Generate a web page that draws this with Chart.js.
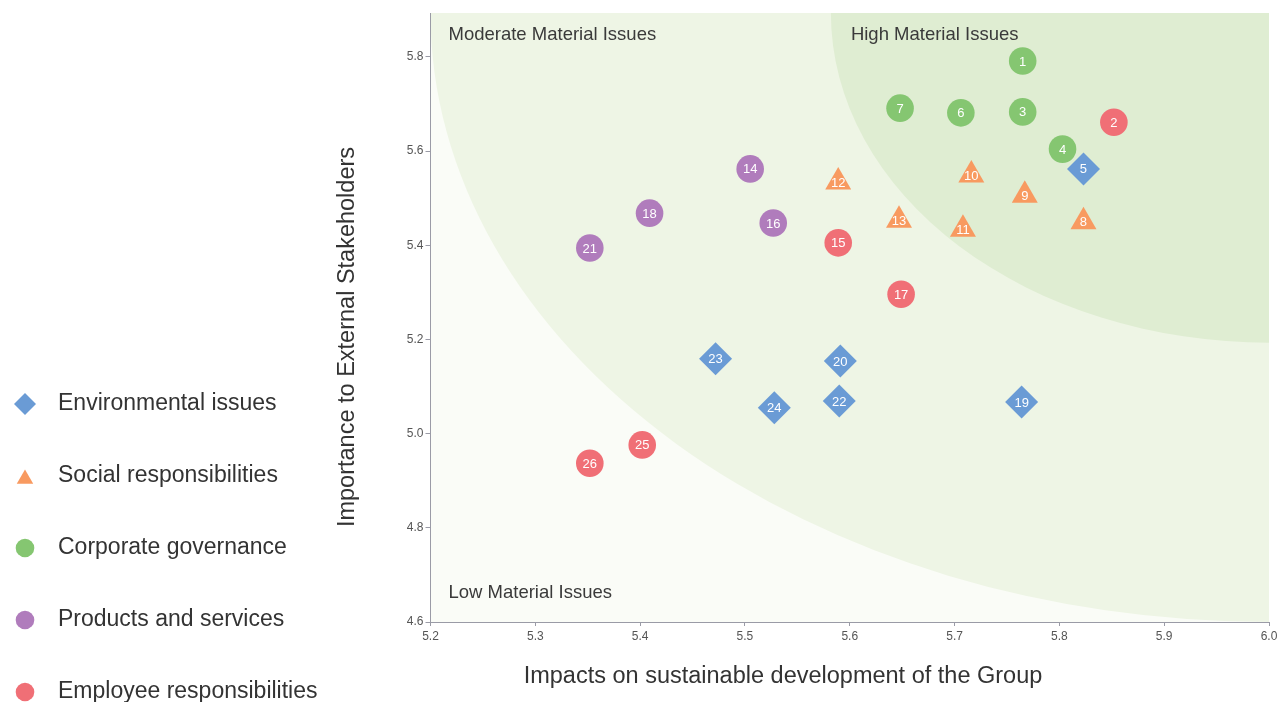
<!DOCTYPE html>
<html>
<head>
<meta charset="utf-8">
<title>Materiality matrix</title>
<script src="https://cdn.jsdelivr.net/npm/chart.js@4/dist/chart.umd.min.js"></script>
<style>
  html, body { margin: 0; padding: 0; background: #ffffff; overflow: hidden; }
  #wrap { position: relative; width: 1277px; height: 702px; }
</style>
</head>
<body>
<div id="wrap"><canvas id="matrix" width="1277" height="702"></canvas></div>
<script>
// Issue groups shown in the legend
const categories = [
  'Environmental issues',
  'Social responsibilities',
  'Corporate governance',
  'Products and services',
  'Employee responsibilities'
];

// Environmental issues
const envIds = [5, 19, 20, 22, 23, 24];
const envX   = [5.823, 5.764, 5.591, 5.590, 5.472, 5.528];
const envY   = [5.562, 5.067, 5.154, 5.069, 5.159, 5.055];

// Social responsibilities
const socIds = [8, 9, 10, 11, 12, 13];
const socX   = [5.823, 5.767, 5.716, 5.708, 5.589, 5.647];
const socY   = [5.450, 5.506, 5.549, 5.434, 5.534, 5.453];

// Corporate governance
const govIds = [1, 3, 4, 6, 7];
const govX   = [5.765, 5.765, 5.803, 5.706, 5.648];
const govY   = [5.791, 5.683, 5.604, 5.681, 5.691];

// Products and services
const prdIds = [14, 16, 18, 21];
const prdX   = [5.505, 5.527, 5.409, 5.352];
const prdY   = [5.562, 5.447, 5.468, 5.394];

// Employee responsibilities
const empIds = [2, 15, 17, 25, 26];
const empX   = [5.852, 5.589, 5.649, 5.402, 5.352];
const empY   = [5.661, 5.405, 5.296, 4.976, 4.937];

// Axis ranges and tick steps
const xRange = [5.2, 6.0];
const yRange = [4.6, 5.893];
const xStep = 0.1;
const yStep = 0.2;

// Materiality zones: quarter ellipses anchored at the top-right corner,
// given by the value where each one meets the top and right edges
const highZone = { xEdge: 5.582, yEdge: 5.193 };
const moderateZone = { xEdge: 5.2, yEdge: 4.6 };
const zoneNames = ['High Material Issues', 'Moderate Material Issues', 'Low Material Issues'];

const axisTitles = {
  x: 'Impacts on sustainable development of the Group',
  y: 'Importance to External Stakeholders'
};

const FONT = "'Liberation Sans', Arial, sans-serif";
const colors = ['#6a9bd5', '#f89a60', '#85c671', '#b07cbc', '#f06f76'];
const styles = ['rectRot', 'triangle', 'circle', 'circle', 'circle'];
const radii  = [16.5, 15, 13.8, 13.8, 13.8];

const series = [
  { ids: envIds, xs: envX, ys: envY },
  { ids: socIds, xs: socX, ys: socY },
  { ids: govIds, xs: govX, ys: govY },
  { ids: prdIds, xs: prdX, ys: prdY },
  { ids: empIds, xs: empX, ys: empY }
];

const datasets = series.map((s, i) => ({
  label: categories[i],
  data: s.xs.map((x, j) => ({ x: x, y: s.ys[j] })),
  ids: s.ids,
  pointStyle: styles[i],
  pointRadius: radii[i],
  pointHoverRadius: radii[i],
  backgroundColor: colors[i],
  borderColor: colors[i],
  pointBorderWidth: 0,
  showLine: false
}));

// Shaded zones behind the points, plus their captions
const zonesPlugin = {
  id: 'zones',
  beforeDraw(chart) {
    const { ctx, chartArea: a, scales: { x, y } } = chart;
    const cx = x.getPixelForValue(xRange[1]);
    const cy = y.getPixelForValue(yRange[1]);
    ctx.save();
    ctx.beginPath();
    ctx.rect(a.left, a.top, a.right - a.left, a.bottom - a.top);
    ctx.clip();
    ctx.fillStyle = '#fafcf7';
    ctx.fillRect(a.left, a.top, a.right - a.left, a.bottom - a.top);

    ctx.fillStyle = '#eef5e5';
    ctx.beginPath();
    ctx.ellipse(cx, cy, cx - x.getPixelForValue(moderateZone.xEdge),
      y.getPixelForValue(moderateZone.yEdge) - cy, 0, 0, Math.PI * 2);
    ctx.fill();

    ctx.fillStyle = '#dfedd2';
    ctx.beginPath();
    ctx.ellipse(cx, cy, cx - x.getPixelForValue(highZone.xEdge),
      y.getPixelForValue(highZone.yEdge) - cy, 0, 0, Math.PI * 2);
    ctx.fill();
    ctx.restore();

    ctx.save();
    ctx.font = '18.5px ' + FONT;
    ctx.fillStyle = '#3a3a3a';
    ctx.textAlign = 'left';
    ctx.textBaseline = 'middle';
    ctx.fillText(zoneNames[0], x.getPixelForValue(highZone.xEdge) + 20, a.top + 22);
    ctx.fillText(zoneNames[1], a.left + 18, a.top + 22);
    ctx.fillText(zoneNames[2], a.left + 18, a.bottom - 29);
    ctx.restore();
  }
};

// Issue numbers written inside each marker
const idLabelsPlugin = {
  id: 'idLabels',
  afterDatasetsDraw(chart) {
    const { ctx } = chart;
    ctx.save();
    ctx.font = '13px ' + FONT;
    ctx.fillStyle = '#ffffff';
    ctx.textAlign = 'center';
    ctx.textBaseline = 'middle';
    chart.data.datasets.forEach((ds, i) => {
      chart.getDatasetMeta(i).data.forEach((pt, j) => {
        ctx.fillText(String(ds.ids[j]), pt.x, pt.y + 1);
      });
    });
    ctx.restore();
  }
};

// Axis titles and the vertical legend on the left
const sideTextPlugin = {
  id: 'sideText',
  afterDraw(chart) {
    const { ctx } = chart;
    ctx.save();
    ctx.fillStyle = '#333333';
    ctx.font = '23.5px ' + FONT;
    ctx.textAlign = 'center';
    ctx.textBaseline = 'middle';
    ctx.fillText(axisTitles.x, 783, 677);
    ctx.translate(348, 337);
    ctx.rotate(-Math.PI / 2);
    ctx.fillText(axisTitles.y, 0, 0);
    ctx.restore();

    const legendRadii = [11, 9.5, 9.3, 9.3, 9.3];
    chart.data.datasets.forEach((ds, i) => {
      const cy = 404 + i * 72;
      ctx.save();
      ctx.fillStyle = ds.backgroundColor;
      ctx.strokeStyle = ds.backgroundColor;
      let py = cy;
      if (ds.pointStyle === 'triangle') py = cy + 3;
      Chart.helpers.drawPoint(ctx, { pointStyle: ds.pointStyle, radius: legendRadii[i], rotation: 0, borderWidth: 0 }, 25, py);
      ctx.fillStyle = '#333333';
      ctx.font = '23px ' + FONT;
      ctx.textAlign = 'left';
      ctx.textBaseline = 'middle';
      ctx.fillText(ds.label, 58, cy);
      ctx.restore();
    });
  }
};

new Chart(document.getElementById('matrix'), {
  type: 'scatter',
  data: { datasets: datasets },
  options: {
    responsive: false,
    animation: false,
    events: [],
    layout: { autoPadding: false, padding: { left: 380, top: 13, right: 0, bottom: 0 } },
    plugins: { legend: { display: false }, tooltip: { enabled: false } },
    scales: {
      x: {
        type: 'linear',
        min: xRange[0], max: xRange[1],
        afterFit(scale) { scale.height = 80; scale.paddingRight = 8; scale.paddingLeft = 0; },
        border: { color: '#9a9ba6', width: 1 },
        grid: { drawOnChartArea: false, drawTicks: true, tickLength: 4, color: '#9a9ba6' },
        ticks: {
          stepSize: xStep, padding: 3, color: '#555555',
          font: { family: FONT, size: 12 },
          callback: (v) => Number(v).toFixed(1)
        }
      },
      y: {
        type: 'linear',
        min: yRange[0], max: yRange[1],
        afterFit(scale) { scale.width = 50.5; scale.paddingTop = 0; scale.paddingBottom = 0; },
        border: { color: '#9a9ba6', width: 1 },
        grid: { drawOnChartArea: false, drawTicks: true, tickLength: 5, color: '#9a9ba6' },
        ticks: {
          stepSize: yStep, includeBounds: false, padding: 2, color: '#555555',
          font: { family: FONT, size: 12 },
          callback: (v) => Number(v).toFixed(1)
        }
      }
    }
  },
  plugins: [zonesPlugin, idLabelsPlugin, sideTextPlugin]
});
</script>
</body>
</html>
